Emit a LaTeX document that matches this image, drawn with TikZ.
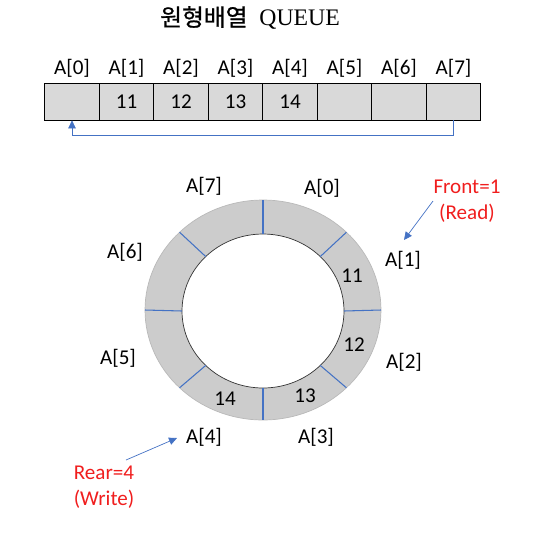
\documentclass[tikz,border=0pt]{standalone}
\usepackage{fontspec}
\setmainfont{Carlito}
\newfontfamily\krfont[FakeBold=0.8]{Noto Sans CJK KR}
\newfontfamily\titlefont{Liberation Serif}
\usetikzlibrary{arrows.meta,positioning}
\definecolor{qblue}{RGB}{68,114,196}
\definecolor{qred}{RGB}{240,30,30}

\begin{document}
\begin{tikzpicture}[x=0.02cm, y=-0.02cm,
        cell/.style={draw, fill=gray!30, minimum width=1.09cm, minimum height=0.74cm, inner sep=0pt, font=\fontsize{12}{14}\selectfont},
        idx/.style={inner sep=1pt, font=\fontsize{12}{14}\selectfont},
        note/.style={text=qred, align=center, inner sep=1pt, font=\fontsize{12}{15}\selectfont},
        link/.style={-{Triangle[length=1.6mm,width=1.5mm]}, draw=qblue, thin}
      ]
      \useasboundingbox (0,0) rectangle (534,532);
      \node (title) at (250,18) {\fontsize{13.5}{16}\selectfont{\krfont 원형배열}\hspace{0.5em}\titlefont QUEUE};

      % linear array
      \foreach \i/\v in {0/,1/11,2/12,3/13,4/14,5/,6/,7/} {
        \node[cell] (c\i) at ({72+54.5*\i},101.5) {\v};
        \node[idx] (l\i) at ({72+54.5*\i},68) {A[\i]};
      }
      \draw[link] (c7.south) -- ++(0,15) -| (c0.south);

      % ring
      \fill[gray!40] (263,310) ellipse [x radius=2.36cm, y radius=2.2cm];
      \draw[gray!55, thin] (263,310) ellipse [x radius=2.36cm, y radius=2.2cm];
      \fill[white] (263,311) ellipse [x radius=1.62cm, y radius=1.54cm];
      \draw[black!80, thin] (263,311) ellipse [x radius=1.62cm, y radius=1.54cm];
      \foreach \a in {0,45,...,315}
        \draw[qblue, line width=0.6pt] ({263+81*cos(\a)},{311-77*sin(\a)}) -- ({263+118*cos(\a)},{310-110*sin(\a)});

      \node[idx] (v1) at (352,276) {11};
      \node[idx] (v2) at (354,345) {12};
      \node[idx] (v3) at (305,396) {13};
      \node[idx] (v4) at (225,399) {14};

      \node[idx] (r0) at (322,188) {A[0]};
      \node[idx] (r1) at (403,260) {A[1]};
      \node[idx] (r2) at (404,362) {A[2]};
      \node[idx] (r3) at (316,437) {A[3]};
      \node[idx] (r4) at (204,437) {A[4]};
      \node[idx] (r5) at (118,358) {A[5]};
      \node[idx] (r6) at (125,252) {A[6]};
      \node[idx] (r7) at (204,186) {A[7]};

      % front / rear
      \node[note] (front) at (467,201) {Front=1\\(Read)};
      \node[note] (rear) at (104,487) {Rear=4\\(Write)};
      \coordinate (fs) at (433,201);
      \coordinate (fe) at (404,240);
      \coordinate (rs) at (126,460);
      \coordinate (re) at (177,438);
      \draw[link] (fs) -- (fe);
      \draw[link] (rs) -- (re);
    \end{tikzpicture}
\end{document}
